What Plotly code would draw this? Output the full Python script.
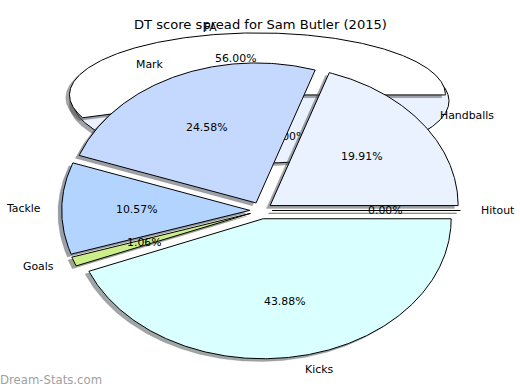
import numpy as np
import plotly.graph_objects as go

# ---------------- data ----------------
slice_labels = ["Handballs", "Mark", "Tackle", "Goals", "Kicks", "Hitout"]
slice_pcts = [19.91, 24.58, 10.57, 1.06, 43.88, 0.00]
neg_label = "FA"
neg_pct = -56.00
back_pcts = [100.00]
title_text = "DT score spread for Sam Butler (2015)"
watermark_text = "Dream-Stats.com"

# ---------------- style ----------------
slice_colors = ["#eaf1ff", "#c5d9ff", "#b3d4ff", "#ccee88", "#d9ffff", "#ffffff"]
back_color = "#eaf1ff"
neg_color = "#ffffff"
EXPLODE = 0.06
NEG_EXPLODE = 0.10
BACK_Y = 0.782      # vertical offset of the rear (squashed) pie
BACK_RY = 0.443     # vertical squash of the rear pie
BACK_START = 100.8
SHADOW_DX, SHADOW_DY = -0.02, -0.02
PCT_DIST, LABEL_DIST = 0.6, 1.1
FONT = "DejaVu Sans"
LABEL_SIZE = 10.9
TITLE_SIZE = 13.1

W, H = 520, 390
CX_PX, CY_PX, RX_PX, RY_PX = 261, 210.5, 188, 140
x_range = [-CX_PX / RX_PX, (W - CX_PX) / RX_PX]
y_range = [(CY_PX - H) / RY_PX, CY_PX / RY_PX]


def wedge_path(cx, cy, rx, ry, t1, t2):
    span = t2 - t1
    n = max(2, int(abs(span) * 2) + 1)
    th = np.radians(np.linspace(t1, t2, n))
    ax = cx + rx * np.cos(th)
    ay = cy + ry * np.sin(th)
    if abs(span) >= 360 - 1e-9:
        return list(ax), list(ay)
    return [cx] + list(ax) + [cx], [cy] + list(ay) + [cy]


def shadow_rgba(hexcol):
    h = hexcol.lstrip("#")
    r, g, b = (int(h[i:i + 2], 16) for i in (0, 2, 4))
    return f"rgba({int(r*0.3)},{int(g*0.3)},{int(b*0.3)},0.5)"


def add_poly(fig, xs, ys, fill, line_color, width=1.0):
    fig.add_trace(go.Scatter(x=xs, y=ys, mode="lines", fill="toself",
                             fillcolor=fill, line=dict(color=line_color, width=width),
                             hoverinfo="skip", showlegend=False))


def add_shadow(fig, xs, ys, col, zero_width=False):
    sx = [x + SHADOW_DX for x in xs]
    sy = [y + SHADOW_DY for y in ys]
    add_poly(fig, sx, sy, shadow_rgba(col), shadow_rgba(col), width=1.0 if zero_width else 0.3)


fig = go.Figure()
annotations = []

# ---------- rear squashed pie ----------
back_cum = BACK_START
for p in back_pcts:
    t1, t2 = back_cum, back_cum + p * 3.6
    xs, ys = wedge_path(0.0, BACK_Y, 1.0, BACK_RY, t1, t2)
    add_shadow(fig, xs, ys, back_color)
    add_poly(fig, xs, ys, back_color, "black")
    m = np.radians((t1 + t2) / 2)
    fig.add_trace(go.Scatter(x=[PCT_DIST * np.cos(m)], y=[BACK_Y + PCT_DIST * BACK_RY * np.sin(m)],
                             mode="text", text=[f"{p:.2f}%"], textposition="middle center",
                             textfont=dict(family=FONT, size=LABEL_SIZE, color="black"),
                             hoverinfo="skip", showlegend=False))
    back_cum = t2

# negative slice, drawn on the rear pie
main_total = sum(slice_pcts) * 3.6
t1, t2 = main_total, main_total + abs(neg_pct) * 3.6
m = np.radians((t1 + t2) / 2)
ncx = NEG_EXPLODE * np.cos(m)
ncy = BACK_Y + NEG_EXPLODE * BACK_RY * np.sin(m)
xs, ys = wedge_path(ncx, ncy, 1.0, BACK_RY, t1, t2)
add_shadow(fig, xs, ys, neg_color)
add_poly(fig, xs, ys, neg_color, "black")
px_, py_ = ncx + PCT_DIST * np.cos(m), ncy + PCT_DIST * BACK_RY * np.sin(m)
lx_, ly_ = ncx + LABEL_DIST * np.cos(m), ncy + LABEL_DIST * BACK_RY * np.sin(m)
annotations.append(dict(x=px_, y=py_, text=f"{abs(neg_pct):.2f}%", xanchor="center"))
annotations.append(dict(x=lx_, y=ly_, text=neg_label, xanchor="left" if lx_ > 0 else "right"))

# ---------- main pie ----------
geo = []
cum = 0.0
for lab, p, col in zip(slice_labels, slice_pcts, slice_colors):
    a1, a2 = cum, cum + p * 3.6
    mm = np.radians((a1 + a2) / 2)
    cx, cy = EXPLODE * np.cos(mm), EXPLODE * np.sin(mm)
    geo.append((lab, p, col, a1, a2, mm, cx, cy))
    cum = a2

for lab, p, col, a1, a2, mm, cx, cy in geo:
    xs, ys = wedge_path(cx, cy, 1.0, 1.0, a1, a2)
    add_shadow(fig, xs, ys, col, zero_width=(p == 0))

for lab, p, col, a1, a2, mm, cx, cy in geo:
    xs, ys = wedge_path(cx, cy, 1.0, 1.0, a1, a2)
    add_poly(fig, xs, ys, col, "black")
    px_, py_ = cx + PCT_DIST * np.cos(mm), cy + PCT_DIST * np.sin(mm)
    lx_, ly_ = cx + LABEL_DIST * np.cos(mm), cy + LABEL_DIST * np.sin(mm)
    annotations.append(dict(x=px_, y=py_, text=f"{p:.2f}%", xanchor="center"))
    annotations.append(dict(x=lx_, y=ly_, text=lab, xanchor="left" if lx_ > 0 else "right"))

for a in annotations:
    a.update(xref="x", yref="y", yanchor="middle", showarrow=False,
             font=dict(family=FONT, size=LABEL_SIZE, color="black"))

annotations.append(dict(xref="paper", yref="paper", x=0.5, y=1 - 25 / H,
                        xanchor="center", yanchor="middle", showarrow=False,
                        text=title_text, font=dict(family=FONT, size=TITLE_SIZE, color="black")))
annotations.append(dict(xref="paper", yref="paper", x=0.0, y=1 - 380 / H,
                        xanchor="left", yanchor="middle", showarrow=False, xshift=-2,
                        text=watermark_text, font=dict(family=FONT, size=11.7, color="#a0a0a0")))

fig.update_layout(
    width=W, height=H, margin=dict(l=0, r=0, t=0, b=0),
    paper_bgcolor="white", plot_bgcolor="white", showlegend=False,
    xaxis=dict(range=x_range, visible=False, fixedrange=True),
    yaxis=dict(range=y_range, visible=False, fixedrange=True),
    annotations=annotations,
)

fig.write_html("out.html", config={"displayModeBar": False},
               post_script="document.body.style.margin='0';document.body.style.overflow='hidden';")
